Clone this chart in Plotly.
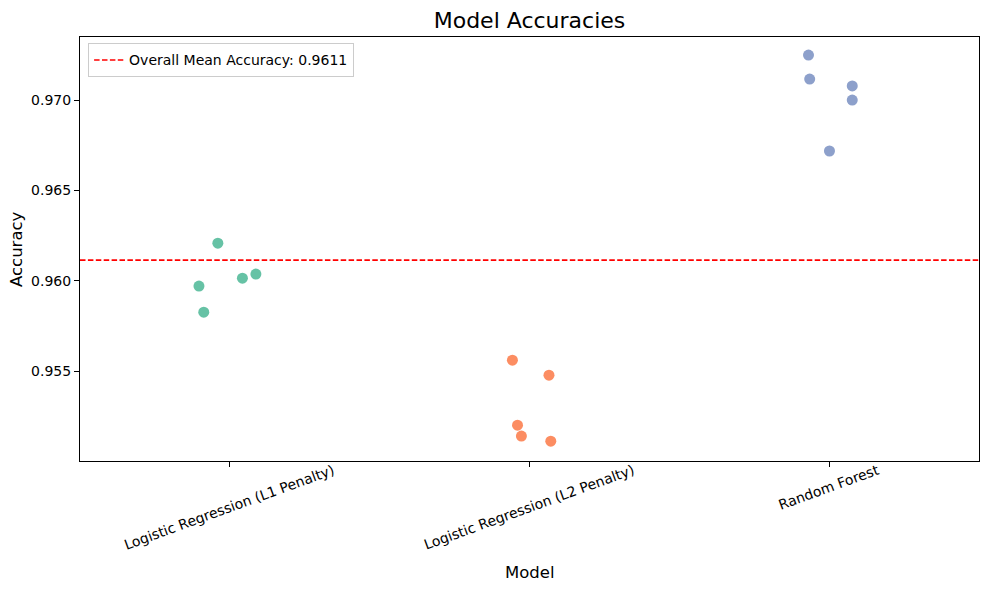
import numpy as np
import plotly.graph_objects as go

categories = ["Logistic Regression (L1 Penalty)", "Logistic Regression (L2 Penalty)", "Random Forest"]
colors = ["#66c2a5", "#fc8d62", "#8da0cb"]

acc_l1 = [0.96208, 0.95970, 0.95826, 0.96014, 0.96037]
acc_l2 = [0.95560, 0.95477, 0.95200, 0.95140, 0.95112]
acc_rf = [0.97249, 0.97116, 0.97078, 0.97000, 0.96718]

jit_l1 = [-0.040, -0.103, -0.087, 0.042, 0.087]
jit_l2 = [-0.057, 0.065, -0.040, -0.027, 0.071]
jit_rf = [-0.069, -0.065, 0.077, 0.077, 0.001]

yticks = [0.955, 0.960, 0.965, 0.970]

series = [acc_l1, acc_l2, acc_rf]
jitters = [jit_l1, jit_l2, jit_rf]
overall_mean = float(np.mean(np.concatenate([np.array(s) for s in series])))

FONT = "DejaVu Sans"
W, H = 989, 590
ML, MR, MT, MB = 80, 10, 37, 129
PW, PH = W - ML - MR, H - MT - MB

fig = go.Figure()
for i, (vals, jit) in enumerate(zip(series, jitters)):
    fig.add_trace(go.Scatter(
        x=[i + j for j in jit], y=vals, mode="markers",
        marker=dict(color=colors[i], size=11, line=dict(width=0)),
        showlegend=False, hoverinfo="y",
    ))

fig.add_trace(go.Scatter(
    x=[-0.5, len(categories) - 0.5], y=[overall_mean, overall_mean], mode="lines",
    line=dict(color="red", dash="5.5px,2.4px", width=1.6),
    name=f"Overall Mean Accuracy: {overall_mean:.4f}", showlegend=True,
))

for i, c in enumerate(categories):
    fig.add_annotation(x=i, y=0, xref="x", yref="paper", text=c, showarrow=False,
                       textangle=-20, xanchor="center", yanchor="top", yshift=2,
                       font=dict(family=FONT, size=14, color="black"))

# axis titles
fig.add_annotation(x=0.5, y=-(572 - (H - MB)) / PH, xref="paper", yref="paper", text="Model", showarrow=False,
                   xanchor="center", yanchor="middle", font=dict(family=FONT, size=16.5, color="black"))
fig.add_annotation(x=(16 - ML) / PW, y=0.5, xref="paper", yref="paper", text="Accuracy", showarrow=False,
                   textangle=-90, xanchor="center", yanchor="middle",
                   font=dict(family=FONT, size=16.5, color="black"))

fig.update_layout(
    width=W, height=H,
    margin=dict(l=ML, r=MR, t=MT, b=MB, autoexpand=False),
    paper_bgcolor="white", plot_bgcolor="white",
    font=dict(family=FONT, color="black"),
    title=dict(text="Model Accuracies", xref="paper", x=0.5, xanchor="center", y=1 - 20 / H, yanchor="middle",
               font=dict(family=FONT, size=22, color="black")),
    legend=dict(x=0.009, y=0.985, xanchor="left", yanchor="top",
                bordercolor="#cccccc", borderwidth=1, bgcolor="rgba(255,255,255,0.8)",
                font=dict(family=FONT, size=14), itemwidth=30),
)
fig.update_xaxes(range=[-0.5, len(categories) - 0.5], tickvals=list(range(len(categories))),
                 ticktext=["" for _ in categories], ticks="outside", ticklen=5, tickcolor="black",
                 showline=True, mirror=True, linecolor="black", linewidth=1, showgrid=False, zeroline=False,
                 automargin=False)
fig.update_yaxes(range=[0.95002, 0.97349], tickvals=yticks, tickformat=".3f",
                 ticks="outside", ticklen=5, tickcolor="black", tickfont=dict(family=FONT, size=14),
                 showline=True, mirror=True, linecolor="black", linewidth=1, showgrid=False, zeroline=False,
                 automargin=False)
fig.write_html("out.html", config={"displayModeBar": False},
               post_script="document.body.style.margin='0';document.body.style.padding='0';")
